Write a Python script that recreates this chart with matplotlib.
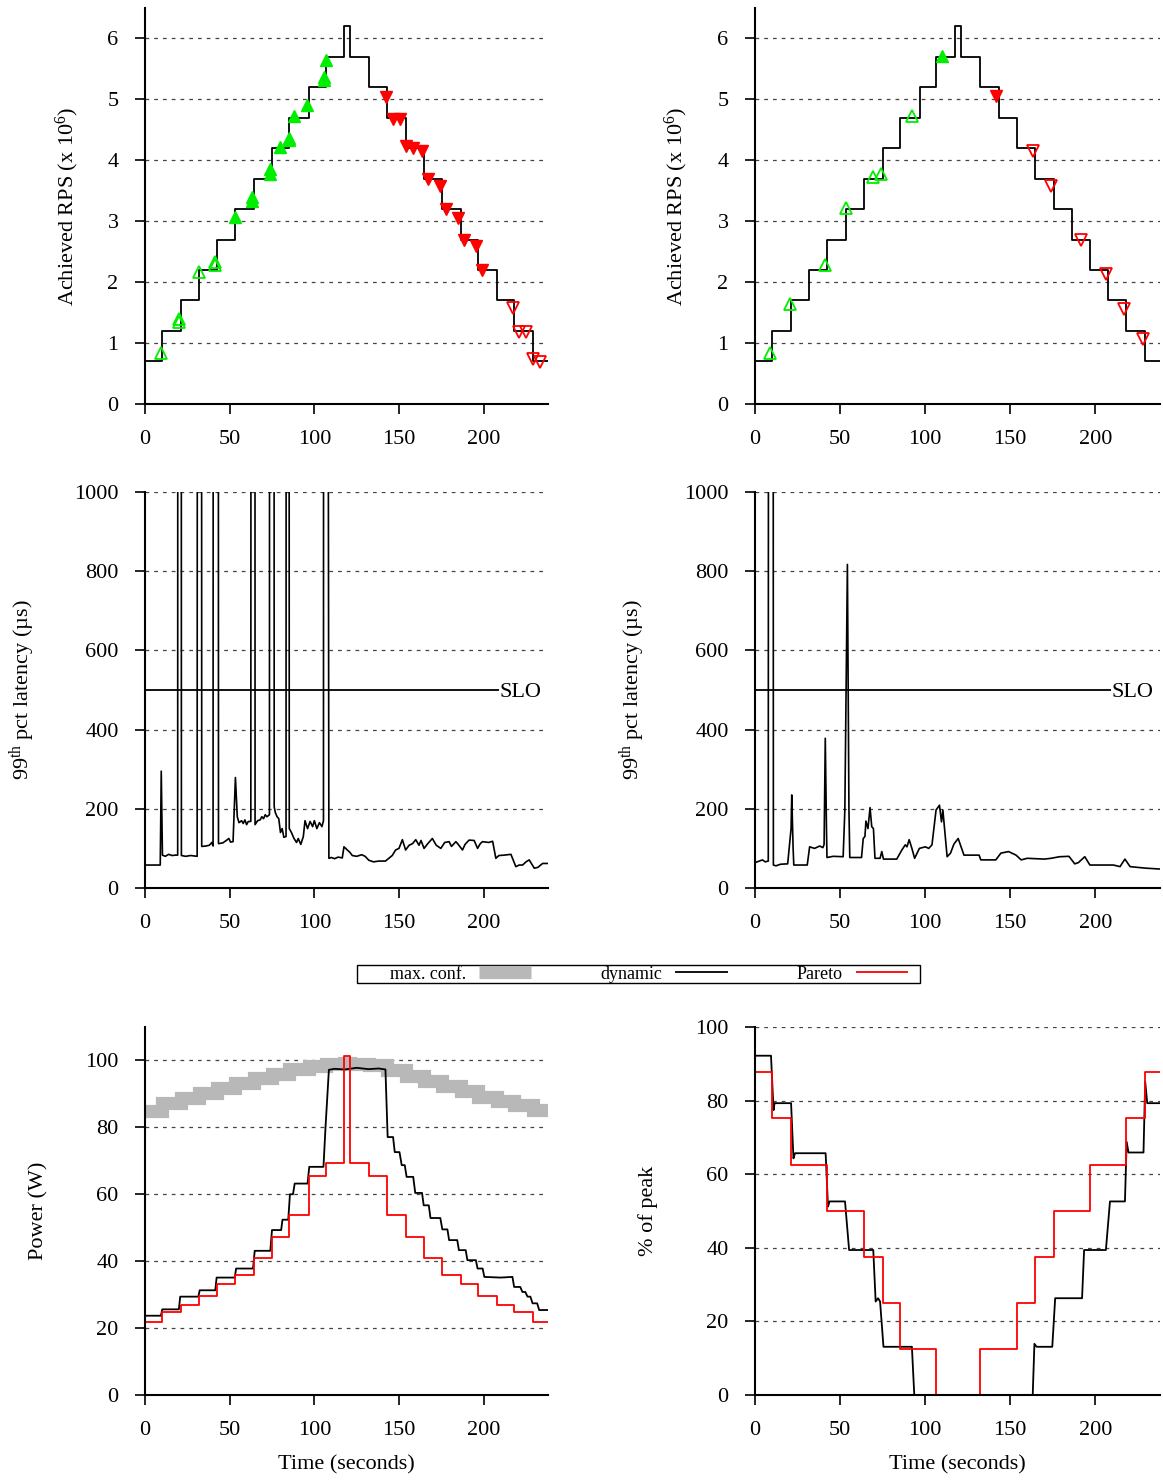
import numpy as np
import matplotlib
matplotlib.use("Agg")
import matplotlib.pyplot as plt
from matplotlib.patches import Rectangle

plt.rcParams['font.family'] = ['Liberation Serif', 'DejaVu Serif']
plt.rcParams['mathtext.fontset'] = 'custom'
plt.rcParams['mathtext.rm'] = 'Liberation Serif'
plt.rcParams['mathtext.it'] = 'Liberation Serif:italic'

# step change times (s) shared by the load ramp
step_t = [0, 10.0, 21.4, 31.7, 42.5, 53.4, 64.2, 75.0, 85.3, 96.7, 106.6, 117.8, 121.0,
          132.2, 143.1, 153.9, 164.8, 175.6, 186.5, 196.9, 207.6, 218.0, 228.9, 238]
rps = [0.7, 1.2, 1.7, 2.2, 2.7, 3.2, 3.7, 4.2, 4.7, 5.2, 5.7, 6.2, 5.7,
       5.2, 4.7, 4.2, 3.7, 3.2, 2.7, 2.2, 1.7, 1.2, 0.7, 0.7]
maxconf_power = [85.0, 87.3, 88.8, 90.3, 91.8, 93.3, 94.8, 95.9, 97.5, 98.3, 98.8, 99.2, 99.0,
                 98.5, 97.0, 95.5, 94.0, 92.5, 91.0, 89.2, 88.0, 86.6, 85.3, 85.3]
pareto_power = [21.9, 24.7, 26.9, 29.6, 33.3, 35.8, 41.1, 47.3, 53.9, 65.4, 69.2, 101.3, 69.2,
                65.4, 53.9, 47.2, 41.0, 35.8, 33.1, 29.6, 26.9, 24.7, 21.9, 21.9]
pareto_pct = [87.7, 75.2, 62.5, 62.5, 50.0, 50.0, 37.6, 24.9, 12.4, 12.4, 0, 0, 0,
              12.4, 12.4, 24.9, 37.6, 50.0, 50.0, 62.5, 62.5, 75.2, 87.7, 87.7]

# reconfiguration markers, left panel (heuristic)
tl_up_open_t = [9.6, 20.2, 20.2, 32.1, 41.5, 41.5]
tl_up_open_y = [0.84, 1.40, 1.35, 2.17, 2.33, 2.28]
tl_up_fill_t = [53.4, 63.2, 63.2, 74.1, 74.1, 80.0, 84.9, 84.9, 87.9, 95.4, 106.0, 106.0, 106.6]
tl_up_fill_y = [3.07, 3.40, 3.34, 3.86, 3.77, 4.22, 4.37, 4.33, 4.72, 4.91, 5.37, 5.31, 5.65]
tl_dn_fill_t = [142.1, 146.4, 150.4, 153.9, 158.3, 163.4, 167.4, 174.3, 178.0, 184.9, 188.5, 195.7, 199.3]
tl_dn_fill_y = [5.04, 4.68, 4.68, 4.23, 4.20, 4.15, 3.69, 3.58, 3.20, 3.06, 2.69, 2.60, 2.20]
tl_dn_open_t = [217.1, 221.0, 225.3, 229.3, 233.3]
tl_dn_open_y = [1.57, 1.19, 1.19, 0.74, 0.69]

# reconfiguration markers, right panel (Pareto)
tr_up_open_t = [9.0, 20.8, 41.3, 53.4, 69.1, 73.8, 92.2]
tr_up_open_y = [0.84, 1.64, 2.28, 3.22, 3.73, 3.78, 4.72]
tr_up_fill_t = [110.0]
tr_up_fill_y = [5.72]
tr_dn_fill_t = [141.5]
tr_dn_fill_y = [5.05]
tr_dn_open_t = [163.2, 174.1, 191.8, 206.2, 216.9, 227.9]
tr_dn_open_y = [4.16, 3.58, 2.69, 2.13, 1.56, 1.07]

# 99th pct latency (us), left
lat_l_t = [0, 9.0, 9.6, 10.3, 12, 14, 16, 18, 19.3, 19.5, 21.3, 21.5, 24, 27, 30.8, 31.2, 33.2,
           33.5, 36, 38, 39.5, 40.2, 40.5, 43.1, 43.4, 46, 48, 49.5, 50.5, 52, 53.4, 54.5, 55.5,
           57, 58, 59, 60, 61, 62.5, 62.8, 64.8, 65.0, 66.5, 68, 69, 70, 71, 72, 73.5, 73.7, 76.0,
           76.3, 77, 78, 79, 80, 81, 82, 83.3, 83.5, 84.9, 85.2, 86.5, 88, 89.5, 90.5, 92, 93.5,
           94.5, 96, 97.5, 99, 100, 101.5, 103, 104.5, 105.4, 105.6, 107.0, 108.6, 110, 112, 114,
           116.5, 117.5, 119, 121, 122.4, 125, 128, 130, 132.2, 135, 138, 142, 144, 146, 148, 150,
           152, 153.9, 156, 158, 159.9, 161.8, 163, 164.8, 167, 169.7, 172, 174.7, 177, 179.6,
           181, 183.6, 185, 187.5, 189, 191.4, 194.4, 196.4, 198, 199.3, 203, 205.3, 207.2, 209,
           212.1, 216.1, 219, 221, 223, 225, 226.9, 228.5, 229.9, 232, 234.8, 237.8]
lat_l = [58, 58, 295, 83, 80, 85, 82, 83, 83, 5000, 5000, 82, 80, 82, 80, 5000, 5000,
         105, 106, 108, 115, 106, 5000, 5000, 112, 114, 120, 125, 116, 117, 279, 180, 165,
         170, 163, 172, 160, 168, 168, 5000, 5000, 160, 170, 172, 180, 175, 185, 180, 185, 5000, 5000,
         205, 190, 180, 175, 140, 150, 128, 130, 5000, 5000, 150, 140, 125, 115, 125, 110, 130,
         170, 150, 168, 155, 170, 150, 165, 155, 170, 5000, 5000, 75, 77, 74, 78,
         76, 104, 98, 90, 82, 80, 84, 80, 70, 66, 68, 68, 75, 82, 96, 100,
         122, 96, 108, 112, 122, 108, 120, 100, 112, 125, 108, 100, 115, 117,
         105, 117, 110, 96, 110, 121, 120, 100, 112, 117, 115, 118, 75, 82,
         83, 85, 54, 58, 58, 66, 71, 60, 50, 52, 62, 62]

# 99th pct latency (us), right
lat_r_t = [0, 4.4, 6, 7.8, 8.2, 10.4, 10.8, 12.3, 15, 19.2, 21.2, 21.6, 22.4, 22.8, 30.7, 32.1,
           35, 38, 39.9, 40.6, 41.3, 42.0, 42.3, 46, 51.8, 52.8, 54.3, 55.2, 55.7, 62.6, 63.6,
           64.6, 65.2, 66.4, 67.6, 68.6, 69.6, 70.5, 73.5, 74.5, 75.5, 83.3, 86.3, 88.3, 89.3,
           90.6, 92.2, 93.8, 96.6, 100.1, 102.1, 104.0, 106.4, 108.4, 109.6, 110.4, 112.9, 114.9,
           116.9, 119.4, 122.8, 131.7, 132.7, 141.5, 144.5, 149.0, 153.4, 156.4, 160, 170, 174,
           179.0, 184.5, 187.9, 190, 193.8, 196.8, 205, 210.6, 214.5, 217.4, 220.4, 225, 230, 237.5]
lat_r = [64, 71, 66, 68, 5000, 5000, 58, 56, 60, 61, 150, 235, 100, 58, 58, 104,
         100, 106, 102, 110, 378, 150, 77, 80, 79, 197, 817, 200, 77, 77, 125,
         130, 169, 150, 203, 155, 150, 75, 75, 92, 73, 73, 96, 109, 104,
         122, 100, 75, 100, 104, 100, 109, 197, 209, 167, 197, 79, 88,
         111, 125, 83, 83, 71, 71, 88, 92, 83, 71, 75, 73, 75,
         79, 80, 61, 64, 79, 58, 58, 58, 54, 73, 54, 52, 50, 48]
slo = 500
slo_end = 209

# power (W) of dynamic controller
dyn_power_t = [0, 9.4, 10.2, 20.0, 20.8, 31.5, 32.3, 41.5, 42.3, 53.0, 53.8, 63.8, 64.8, 74.0,
               75.0, 80.4, 81.2, 84.6, 85.6, 87.4, 88.4, 96.0, 97.0, 105.4, 106.6, 108.6, 112,
               118, 125, 132, 138, 142.0, 143.3, 146.5, 147.5, 150.3, 151.6, 153.4, 154.5, 158.4,
               159.6, 163.6, 164.6, 167.6, 168.6, 174.4, 175.6, 178.6, 179.6, 184.4, 185.4, 189.4,
               190.4, 195.4, 196.4, 199.4, 200.4, 210, 217.0, 218.0, 221.6, 222.9, 224.6, 225.9,
               227.6, 228.9, 231.6, 232.8, 238]
dyn_power = [23.7, 23.7, 25.6, 25.6, 29.4, 29.4, 31.3, 31.3, 35.1, 35.1, 37.8, 37.8, 43.1, 43.1,
             49.3, 49.3, 52.4, 52.4, 60.0, 60.0, 63.2, 63.2, 68.2, 68.2, 80, 97.2, 97.5,
             97.3, 97.8, 97.4, 97.6, 97.3, 77.1, 77.1, 72.6, 72.6, 68.7, 68.7, 65.2, 65.2,
             60.4, 60.4, 56.7, 56.7, 52.9, 52.9, 49.5, 49.5, 46.3, 46.3, 43.3, 43.3,
             40.3, 40.3, 37.8, 37.8, 35.3, 35.1, 35.3, 32.3, 32.3, 30.8, 30.8, 29.4,
             29.4, 27.4, 27.4, 25.4, 25.4]

# % of peak, dynamic controller
dyn_pct_t = [0, 9.4, 10.9, 11.5, 21.2, 22.6, 23.5, 41.5, 42.9, 43.8, 52.9, 55.3, 69.5, 70.9,
             72.3, 73.5, 75.5, 92.2, 93.6, 163.2, 164.2, 165.5, 174.7, 176.4, 192.2, 193.4,
             206.2, 208.6, 217.4, 218.4, 219.5, 228.3, 229.3, 230.5, 238]
dyn_pct = [92.2, 92.2, 77.4, 79.3, 79.3, 64.3, 65.7, 65.7, 51.2, 52.6, 52.6, 39.4, 39.4, 25.4,
           26.3, 25.4, 13.1, 13.1, 0, 0, 13.9, 13.1, 13.1, 26.3, 26.3, 39.4,
           39.4, 52.6, 52.6, 68.8, 65.9, 65.9, 85.1, 79.3, 79.3]

FS = 16
green = "#00ee00"
red = "#ff0000"
gray = "#b8b8b8"

fig = plt.figure(figsize=(11.63, 14.8), dpi=100)
W, H = 1163, 1480

def make_ax(x0, x1, y0, y1):
    return fig.add_axes([x0 / W, 1 - y1 / H, (x1 - x0) / W, (y1 - y0) / H])

def style(ax, ymax, yticks, xlabel=False):
    ax.spines[['right', 'top']].set_visible(False)
    ax.spines[['left', 'bottom']].set_linewidth(1.5)
    ax.set_xlim(0, 238)
    ax.set_ylim(0, ymax)
    ax.set_xticks(np.arange(0, 201, 50))
    ax.set_yticks(yticks)
    ax.tick_params(direction='out', length=7, width=1.2, labelsize=FS, pad=12)
    ax.yaxis.grid(True, linestyle=(0, (3, 4)), color='#444444', linewidth=0.9)
    ax.set_axisbelow(True)
    if xlabel:
        ax.set_xlabel("Time (seconds)", fontsize=FS)
        ax.xaxis.set_label_coords(0.5, -0.165)

ax_tl = make_ax(145, 548, 8, 404)
ax_tr = make_ax(755, 1160, 8, 404)
ax_ml = make_ax(145, 548, 492, 888)
ax_mr = make_ax(755, 1160, 492, 888)
ax_bl = make_ax(145, 548, 1027, 1395)
ax_br = make_ax(755, 1160, 1027, 1395)

# top: achieved RPS
for ax in (ax_tl, ax_tr):
    style(ax, 6.5, np.arange(0, 7, 1))
    ax.plot(step_t, rps, color='black', lw=1.3, drawstyle='steps-post')
    ax.set_ylabel(r"Achieved RPS (x 10$^{6}$)", fontsize=FS)
    ax.yaxis.set_label_coords(-0.16, 0.5)

ms = 8
ax_tl.plot(tl_up_open_t, tl_up_open_y, '^', ms=ms, mfc='none', mec=green, mew=1.3, ls='none')
ax_tl.plot(tl_up_fill_t, tl_up_fill_y, '^', ms=ms, color=green, ls='none')
ax_tl.plot(tl_dn_fill_t, tl_dn_fill_y, 'v', ms=ms, color=red, ls='none')
ax_tl.plot(tl_dn_open_t, tl_dn_open_y, 'v', ms=ms, mfc='none', mec=red, mew=1.3, ls='none')
ax_tr.plot(tr_up_open_t, tr_up_open_y, '^', ms=ms, mfc='none', mec=green, mew=1.3, ls='none')
ax_tr.plot(tr_up_fill_t, tr_up_fill_y, '^', ms=ms, color=green, ls='none')
ax_tr.plot(tr_dn_fill_t, tr_dn_fill_y, 'v', ms=ms, color=red, ls='none')
ax_tr.plot(tr_dn_open_t, tr_dn_open_y, 'v', ms=ms, mfc='none', mec=red, mew=1.3, ls='none')

# middle: latency
for ax, t, v in ((ax_ml, lat_l_t, lat_l), (ax_mr, lat_r_t, lat_r)):
    style(ax, 1000, np.arange(0, 1001, 200))
    ax.plot(t, v, color='black', lw=1.2)
    ax.hlines(slo, 0, slo_end, color='black', lw=1.3)
    ax.text(slo_end + 0.5, slo, "SLO", fontsize=FS, va='center_baseline', ha='left')
    ax.set_ylabel("99$^{\\mathrm{th}}$ pct latency (\u00b5s)", fontsize=FS)
    ax.yaxis.set_label_coords(-0.265, 0.5)

# bottom left: power
style(ax_bl, 110, np.arange(0, 101, 20), xlabel=True)
h_max, = ax_bl.plot(step_t, maxconf_power, color=gray, lw=9.5, drawstyle='steps-post',
                    solid_capstyle='butt', solid_joinstyle='miter', label="max. conf.")
h_dyn, = ax_bl.plot(dyn_power_t, dyn_power, color='black', lw=1.3, label="dynamic")
h_par, = ax_bl.plot(step_t, pareto_power, color=red, lw=1.3, drawstyle='steps-post', label="Pareto")
ax_bl.set_ylabel("Power (W)", fontsize=FS)
ax_bl.yaxis.set_label_coords(-0.24, 0.5)

# bottom right: % of peak
style(ax_br, 100, np.arange(0, 101, 20), xlabel=True)
ax_br.plot(dyn_pct_t, dyn_pct, color='black', lw=1.3)
ax_br.plot(step_t, pareto_pct, color=red, lw=1.3, drawstyle='steps-post')
ax_br.set_ylabel("% of peak", fontsize=FS)
ax_br.yaxis.set_label_coords(-0.24, 0.5)

# shared key: frame plus frameless legend inside it
fig.patches.append(Rectangle((357 / W, 1 - 983 / H), 563 / W, 18 / H, transform=fig.transFigure,
                             fill=False, edgecolor='black', linewidth=1.0))
leg = fig.legend(handles=[h_max, h_dyn, h_par], loc='center', ncol=3, mode='expand',
                 bbox_to_anchor=(390 / W, 1 - 983 / H, 518 / W, 18 / H),
                 markerfirst=False, fontsize=13, frameon=False,
                 borderpad=0, handlelength=2.9, handletextpad=0.7, borderaxespad=0)
for line in leg.get_lines():
    line.set_solid_capstyle('butt')

fig.savefig("out.png", dpi=100)
